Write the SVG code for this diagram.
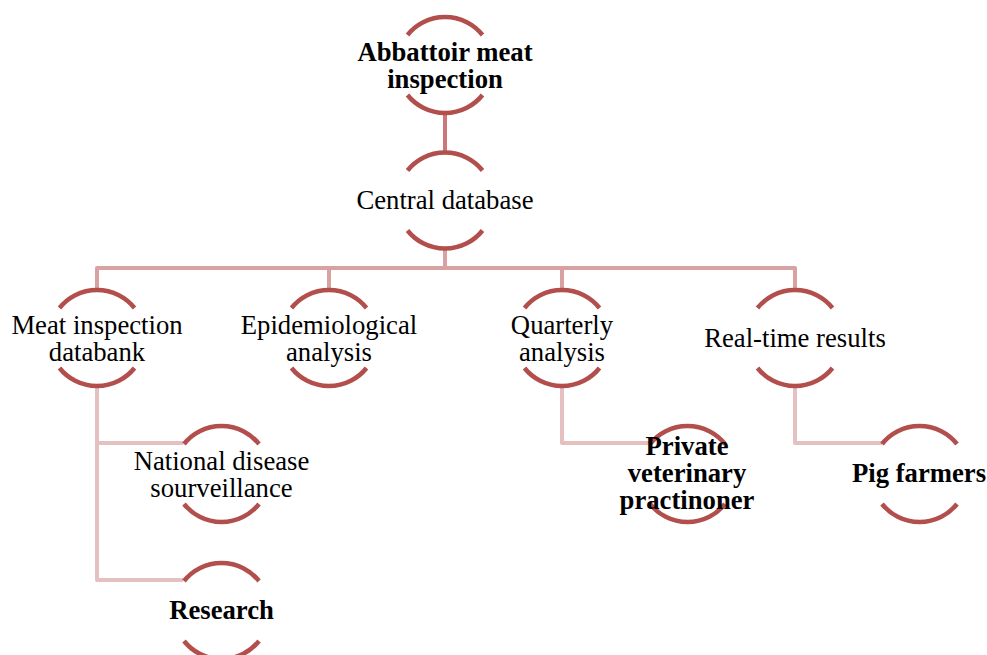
<svg xmlns="http://www.w3.org/2000/svg" width="987" height="655" viewBox="0 0 987 655">
<defs>
<style>
.arc{fill:none;stroke:#b24e4b;stroke-width:4.5}
.c1{fill:none;stroke:#cd7877;stroke-width:4}
.c2{fill:none;stroke:#d9a2a2;stroke-width:4;stroke-linejoin:round}
.c3{fill:none;stroke:#e5c0c0;stroke-width:4;stroke-linejoin:round}
text{font-family:"Liberation Serif","Times New Roman",serif;font-size:26.7px;fill:#000;text-anchor:middle}
.b{font-weight:bold}
</style>
<path id="node" class="arc" d="M-37.5 -30 A48 48 0 0 1 37.5 -30 M-37.5 30 A48 48 0 0 0 37.5 30"/>
</defs>
<rect width="987" height="655" fill="#fff"/>
<g id="connectors">
<path class="c1" d="M445 113 V153"/>
<path class="c2" d="M445 248 V268 M97 289 V268 H795 V289 M329 268 V289 M562 268 V289"/>
<path class="c3" d="M97 386 V580 H183 M97 443 H183 M562 386 V443 H650 M795 386 V443 H882"/>
</g>
<g id="n-abattoir"><use href="#node" x="445" y="65"/><text class="b" x="445" y="60.5">Abbattoir meat</text><text class="b" x="445" y="87.5">inspection</text></g>
<g id="n-central"><use href="#node" x="445" y="200.5"/><text x="445" y="209">Central database</text></g>
<g id="n-databank"><use href="#node" x="97" y="338"/><text x="97" y="334">Meat inspection</text><text x="97" y="361">databank</text></g>
<g id="n-epi"><use href="#node" x="329" y="338"/><text x="329" y="334">Epidemiological</text><text x="329" y="361">analysis</text></g>
<g id="n-quarterly"><use href="#node" x="562" y="338"/><text x="562" y="334">Quarterly</text><text x="562" y="361">analysis</text></g>
<g id="n-realtime"><use href="#node" x="795" y="338"/><text x="795" y="347">Real-time results</text></g>
<g id="n-national"><use href="#node" x="221.5" y="474"/><text x="221.5" y="469.5">National disease</text><text x="221.5" y="496.5">sourveillance</text></g>
<g id="n-research"><use href="#node" x="221.5" y="611"/><text class="b" x="221.5" y="619">Research</text></g>
<g id="n-private"><use href="#node" x="687.5" y="474"/><text class="b" x="687" y="455">Private</text><text class="b" x="687" y="482">veterinary</text><text class="b" x="687" y="509">practinoner</text></g>
<g id="n-pig"><use href="#node" x="919.5" y="474"/><text class="b" x="919" y="482">Pig farmers</text></g>
</svg>
